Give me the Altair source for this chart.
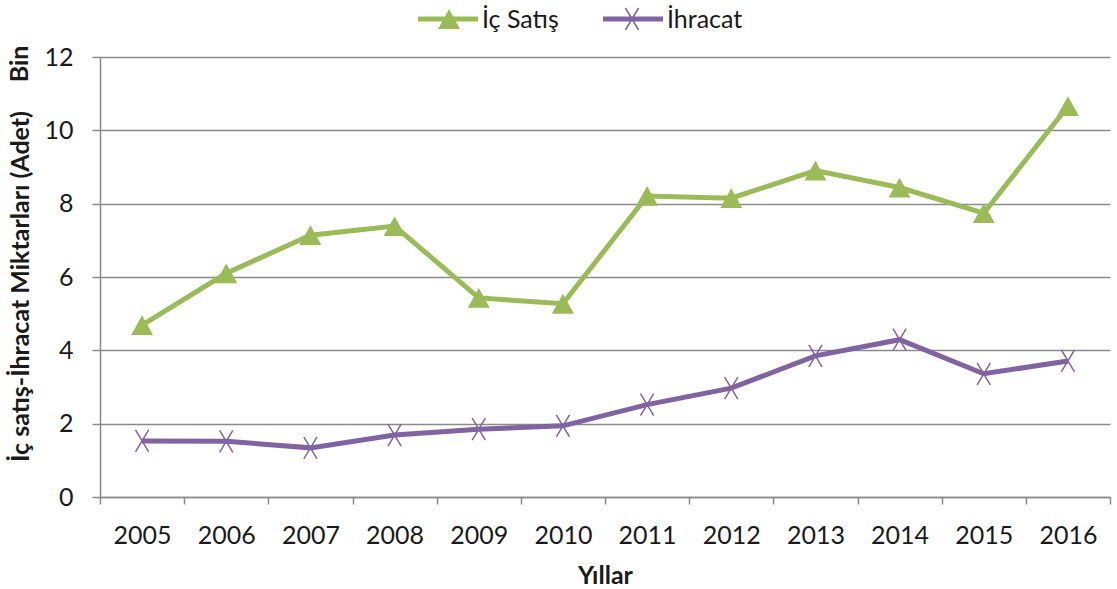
import altair as alt
import pandas as pd

years = [str(y) for y in range(2005, 2017)]
ic_satis = [4.69, 6.10, 7.14, 7.39, 5.43, 5.27, 8.21, 8.15, 8.90, 8.44, 7.74, 10.66]
ihracat = [1.53, 1.52, 1.34, 1.69, 1.85, 1.94, 2.52, 2.97, 3.85, 4.29, 3.36, 3.71]
series_names = ["İç Satış", "İhracat"]
colors = ["#9BBB59", "#8064A2"]

FONT = "Lato"
GRID = "#8a8a8a"
TXT = "#1a1a1a"
FS = 25

df = pd.DataFrame({
    "Yıl": years * 2,
    "Seri": [series_names[0]] * len(years) + [series_names[1]] * len(years),
    "Değer": ic_satis + ihracat,
})

TRI = "M-1,0.9L0,-0.9L1,0.9Z"
XSYM = "M-0.6,-1L0.6,1M-0.6,1L0.6,-1"

x_enc = alt.X("Yıl:O", bandPosition=0.5,
              scale=alt.Scale(type="band", paddingInner=0, paddingOuter=0),
              axis=alt.Axis(title="Yıllar", tickBand="extent", labelAngle=0,
                            labelFontSize=FS, labelFont=FONT, labelColor=TXT,
                            titleFontSize=FS, titleFont=FONT, titleFontWeight="bold",
                            titleColor=TXT, tickSize=7, tickColor=GRID,
                            tickWidth=1.5, domainColor=GRID, domainWidth=1.5,
                            labelPadding=19, titlePadding=15, grid=False))
y_enc = alt.Y("Değer:Q",
              scale=alt.Scale(domain=[0, 12], nice=False),
              axis=alt.Axis(title="İç satış-İhracat Miktarları (Adet)",
                            values=[0, 2, 4, 6, 8, 10, 12], grid=True,
                            gridColor=GRID, gridWidth=1.5, domainColor=GRID,
                            domainWidth=1.5, tickColor=GRID, tickWidth=1.5,
                            tickSize=8, labelFontSize=FS, labelFont=FONT,
                            labelColor=TXT, labelPadding=19,
                            titleFontSize=FS, titleFont=FONT,
                            titleFontWeight="bold", titleColor=TXT,
                            titlePadding=10, titleY=229))
color_enc = alt.Color("Seri:N", scale=alt.Scale(domain=series_names, range=colors),
                      legend=None)

base = alt.Chart(df)
lines = base.mark_line(strokeWidth=5).encode(x=x_enc, y=y_enc, color=color_enc)
tri = base.transform_filter(alt.datum.Seri == series_names[0]).mark_point(
    shape=TRI, filled=True, size=484, opacity=1, color=colors[0]).encode(x=x_enc, y=y_enc)
xs = base.transform_filter(alt.datum.Seri == series_names[1]).mark_point(
    shape=XSYM, filled=False, size=484, opacity=1, strokeWidth=1.5,
    color=colors[1]).encode(x=x_enc, y=y_enc)

# "Bin" unit label
bin_df = pd.DataFrame({"t": ["Bin"]})
bin_txt = alt.Chart(bin_df).mark_text(angle=270, font=FONT, fontSize=FS,
                                      fontWeight="bold", color=TXT,
                                      align="center", baseline="middle").encode(
    text="t:N", x=alt.value(-80), y=alt.value(7))

# legend
def legend_entry(name, color, x0, x1, xm, shape, filled, sw):
    d = pd.DataFrame({"t": [name]})
    c = alt.Chart(d)
    r = c.mark_rule(strokeWidth=5, color=color).encode(
        x=alt.value(x0), x2=alt.value(x1), y=alt.value(-38))
    p = c.mark_point(shape=shape, filled=filled, size=484, opacity=1,
                     strokeWidth=sw, color=color).encode(
        x=alt.value(xm), y=alt.value(-38))
    t = c.mark_text(font=FONT, fontSize=FS, color=TXT, align="left",
                    baseline="middle").encode(
        text="t:N", x=alt.value(x1 + 4), y=alt.value(-37))
    return r + p + t

leg1 = legend_entry(series_names[0], colors[0], 318, 378, 349, TRI, True, 0)
leg2 = legend_entry(series_names[1], colors[1], 503, 563, 532, XSYM, False, 1.5)

chart = alt.layer(lines, tri, xs, bin_txt, leg1, leg2).properties(
    width=1010, height=440,
    autosize=alt.AutoSizeParams(type="none"),
    padding={"left": 100, "top": 57, "right": 7, "bottom": 92},
    background="white",
).configure_view(stroke=None)

chart.save("out.html", embed_options={"renderer": "svg", "actions": False})
